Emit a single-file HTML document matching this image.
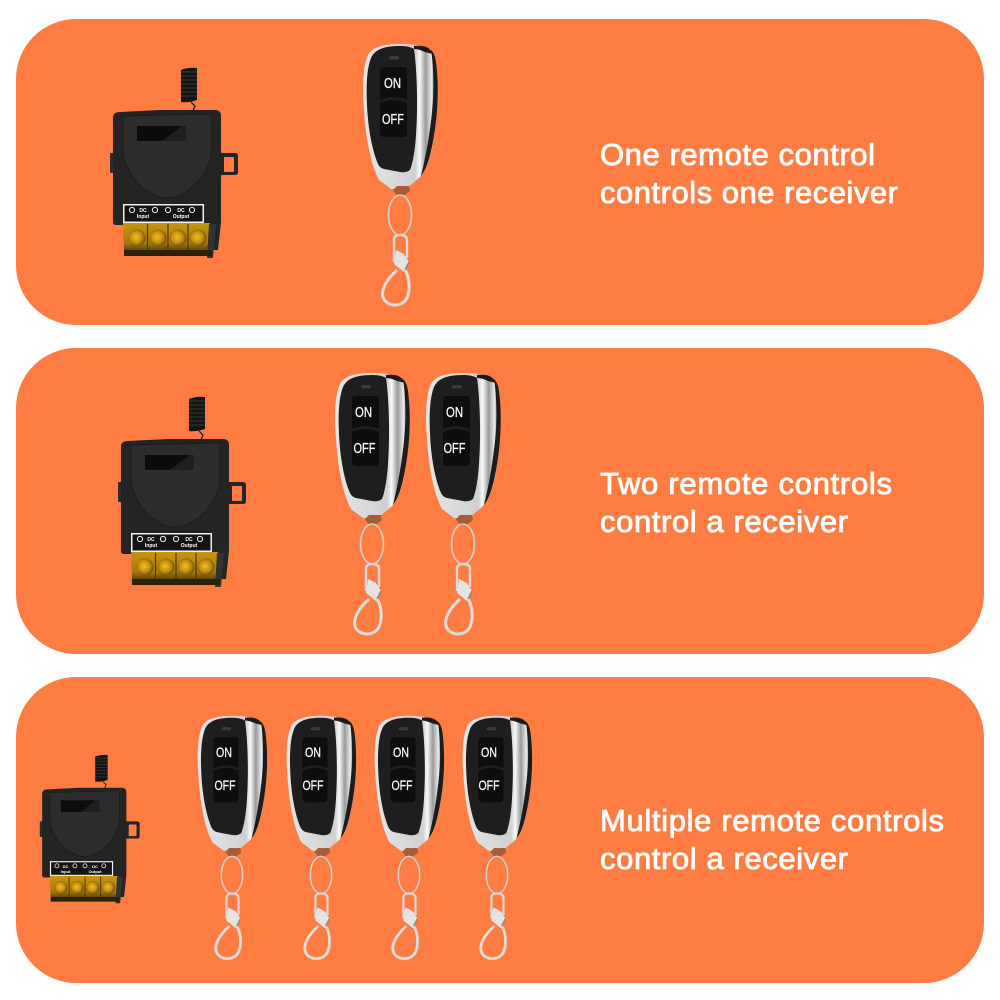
<!DOCTYPE html>
<html><head><meta charset="utf-8"><style>
html,body{margin:0;padding:0;background:#fff}
svg{display:block}
.t{font-family:"Liberation Sans",sans-serif;font-size:31px;fill:#fff;stroke:#fff;stroke-width:.85px}
.b{font-family:"Liberation Sans",sans-serif;font-size:15px;fill:#f6f6f6;stroke:#f6f6f6;stroke-width:.3px;text-anchor:middle}
.c{font-size:14px}
.s{font-family:"Liberation Sans",sans-serif;font-size:5px;font-weight:bold;fill:#fff;text-anchor:middle}
</style></head><body>
<svg width="1000" height="1000" viewBox="0 0 1000 1000" xmlns="http://www.w3.org/2000/svg">
<defs>
<linearGradient id="chrome" x1="0" y1="0" x2="1" y2="0"><stop offset="0" stop-color="#e6e6e6"/><stop offset=".7" stop-color="#d0d0d0"/><stop offset=".76" stop-color="#f8f8f8"/><stop offset=".84" stop-color="#9a9a9a"/><stop offset=".92" stop-color="#ececec"/><stop offset="1" stop-color="#1a1a1a"/></linearGradient>
<linearGradient id="brass" x1="0" y1="0" x2="0" y2="1"><stop offset="0" stop-color="#c9960f"/><stop offset=".65" stop-color="#a67a0a"/><stop offset="1" stop-color="#3a2b06"/></linearGradient>
<radialGradient id="screw" cx=".45" cy=".45" r=".6"><stop offset="0" stop-color="#f2be22"/><stop offset=".55" stop-color="#c2900e"/><stop offset="1" stop-color="#5f4508"/></radialGradient>
<g id="remote">
<path d="M364 110C362 85 363 66 368 55C372 47 384 44 400 44C418 44 430 47 434 56C438 72 439 100 435 130C432 152 428 168 420 177L406 189H391L379 180C371 165 366 140 364 110Z" fill="url(#chrome)"/>
<path d="M431 50C434 53 435 56 436 62C439 85 438 110 434 135C431 155 427 168 421 176C425 160 431 130 433 100C434 80 433 62 431 50Z" fill="#1c1c1c"/>
<path d="M367 105C366 85 367 68 371 58C375 49 385 46 400 46C406 46 411 47 414 49C417 70 418 105 416 135C415 150 413 162 410 170Q406 173 400 172L384 169Q380 168 378 164C372 150 368 128 367 105Z" fill="#1e1e1f"/>
<path d="M414 46C424 45 430 47 433 54L425 52Q419 49 414 49Z" fill="#1c1c1c"/>
<rect x="389" y="56" width="10" height="3.500" rx="1.700" fill="#3c3c3c"/>
<path d="M380 71Q380 67 384 67H403Q407 67 407 71V100Q393 94 380 100Z" fill="#0d0d0d"/>
<path d="M380 103Q393 97 407 103V132Q407 137 403 137H384Q380 137 380 132Z" fill="#0d0d0d"/>
<path d="M393 190L397 186H409L410 191L403 196H397Z" fill="#a85c36"/>
<ellipse cx="400" cy="215" rx="11.500" ry="20" fill="none" stroke="#cfcfcf" stroke-width="1.600"/>
<path d="M394 262V240Q394 235 400 235Q407 235 407 240V258" fill="none" stroke="#d8d8d8" stroke-width="2.400"/>
<path d="M396 250L404 254L409 262L404 272L394 264Z" fill="#e4e4e4"/>
<path d="M397 270C386 280 381 290 383 297C386 307 402 308 407 298C411 288 409 276 405 270" fill="none" stroke="#dcdcdc" stroke-width="3"/>
<path d="M405 270L409 262" stroke="#888" stroke-width="1.500"/>
</g>
<g id="receiver">
<path d="M181 102V70Q188 67 197 68V100Q188 103 181 102Z" fill="#141414"/>
<path d="M181 72H197M181 76H197M181 80H197M181 84H197M181 88H197M181 92H197M181 96H197" stroke="#383838" stroke-width="1"/>
<path d="M191 102L195 106L193 111" fill="none" stroke="#222" stroke-width="1.300"/>
<path d="M218 153H235Q238 153 238 156V172Q238 175 235 175H218Z" fill="#252525"/>
<rect x="224" y="157" width="10" height="15" rx="1" fill="#ff7d43"/>
<rect x="110" y="153" width="4" height="20" rx="1" fill="#2c2c2c"/>
<path d="M113 118Q113 112 120 112L160 110H215Q221 110 221 116V222L218 250H210V225H116Q113 225 113 222Z" fill="#242425"/>
<path d="M123 116V150C125 178 150 198 167 198C186 198 210 176 212 150V114Z" fill="#2d2d2e" stroke="#1a1a1a" stroke-width=".8"/>
<rect x="137" y="126" width="49" height="15" fill="#0c0c0c"/>
<path d="M162 141L182 126H186V141Z" fill="#1f1f1f"/>
<rect x="123" y="204" width="81" height="19" fill="#f0f0f0"/>
<rect x="124.500" y="205.500" width="78" height="16" fill="#141414"/>
<g fill="none" stroke="#eee" stroke-width="1"><circle cx="132" cy="210" r="2.600"/><circle cx="155" cy="210" r="2.600"/><circle cx="168" cy="210" r="2.600"/><circle cx="192" cy="210" r="2.600"/></g>
<path d="M123 223H210L211 254H124Z" fill="url(#brass)"/>
<path d="M147.500 224V250M168 224V250M188 224V250" stroke="#4a3606" stroke-width="1.200"/>
<path d="M209 224H216L213 258H207Z" fill="#333"/>
<g fill="url(#screw)"><circle cx="137" cy="238" r="8.500"/><circle cx="158" cy="238" r="8.500"/><circle cx="178" cy="238" r="8.500"/><circle cx="198" cy="238" r="8.500"/></g>
<path d="M124 250H212V256H124Z" fill="#2a2208"/>
</g>
</defs>

<rect width="1000" height="1000" fill="#fff"/>
<rect x="16" y="19" width="968" height="306" rx="60" fill="#ff7d43"/>
<rect x="16" y="348" width="968" height="306" rx="60" fill="#ff7d43"/>
<rect x="16" y="677" width="968" height="306" rx="60" fill="#ff7d43"/>

<!-- Panel 1 -->
<use href="#receiver"/>
<text class="s" x="143" y="212">DC</text><text class="s" x="143" y="218">Input</text>
<text class="s" x="181" y="212">DC</text><text class="s" x="181" y="218">Output</text>
<use href="#remote"/>
<text class="b" x="392.500" y="88" textLength="17" lengthAdjust="spacingAndGlyphs">ON</text><text class="b" x="393" y="124" textLength="22" lengthAdjust="spacingAndGlyphs">OFF</text>
<text class="t" x="600" y="165" textLength="275">One remote control</text>
<text class="t" x="600" y="203" textLength="298">controls one receiver</text>

<!-- Panel 2 -->
<use href="#receiver" transform="translate(8 329)"/>
<text class="s" x="151" y="541">DC</text><text class="s" x="151" y="547">Input</text>
<text class="s" x="189" y="541">DC</text><text class="s" x="189" y="547">Output</text>
<use href="#remote" transform="translate(-28 329)"/>
<text class="b" x="363.500" y="417" textLength="17" lengthAdjust="spacingAndGlyphs">ON</text><text class="b" x="364.500" y="453" textLength="22" lengthAdjust="spacingAndGlyphs">OFF</text>
<use href="#remote" transform="translate(63 329)"/>
<text class="b" x="454.500" y="417" textLength="17" lengthAdjust="spacingAndGlyphs">ON</text><text class="b" x="454.500" y="453" textLength="22" lengthAdjust="spacingAndGlyphs">OFF</text>
<text class="t" x="600" y="494" textLength="292">Two remote controls</text>
<text class="t" x="600" y="532" textLength="248">control a receiver</text>

<!-- Panel 3 -->
<use href="#receiver" transform="translate(-46 702) scale(.78)"/>
<text class="s" style="font-size:4px" x="65.500" y="868">DC</text><text class="s" style="font-size:4px" x="65.500" y="873">Input</text>
<text class="s" style="font-size:4px" x="95" y="868">DC</text><text class="s" style="font-size:4px" x="95" y="873">Output</text>
<use href="#remote" transform="translate(-140 675) scale(.93)"/>
<text class="b c" x="224" y="757" textLength="16" lengthAdjust="spacingAndGlyphs">ON</text><text class="b c" x="225" y="790" textLength="21" lengthAdjust="spacingAndGlyphs">OFF</text>
<use href="#remote" transform="translate(-51 675) scale(.93)"/>
<text class="b c" x="313" y="757" textLength="16" lengthAdjust="spacingAndGlyphs">ON</text><text class="b c" x="313" y="790" textLength="21" lengthAdjust="spacingAndGlyphs">OFF</text>
<use href="#remote" transform="translate(37 675) scale(.93)"/>
<text class="b c" x="401" y="757" textLength="16" lengthAdjust="spacingAndGlyphs">ON</text><text class="b c" x="402" y="790" textLength="21" lengthAdjust="spacingAndGlyphs">OFF</text>
<use href="#remote" transform="translate(125 675) scale(.93)"/>
<text class="b c" x="489" y="757" textLength="16" lengthAdjust="spacingAndGlyphs">ON</text><text class="b c" x="489" y="790" textLength="21" lengthAdjust="spacingAndGlyphs">OFF</text>
<text class="t" x="600" y="831" textLength="344">Multiple remote controls</text>
<text class="t" x="600" y="869" textLength="248">control a receiver</text>
</svg>
</body></html>
